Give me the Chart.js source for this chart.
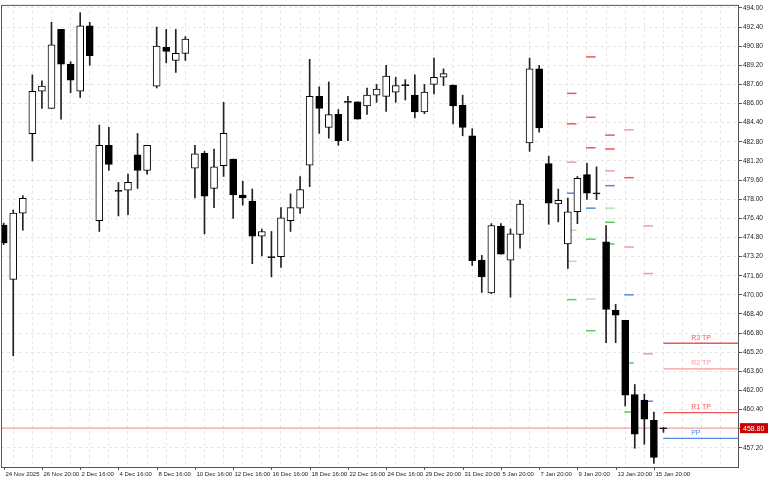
<!DOCTYPE html>
<html><head><meta charset="utf-8">
<script src="https://cdn.jsdelivr.net/npm/chart.js@4"></script>
<style>html,body{margin:0;padding:0;background:#fff}#w{width:768px;height:480px}</style>
</head><body><div id="w"><canvas id="c"></canvas></div>
<script>
// OHLC candles
const opens  = [475.84,471.28,476.84,483.47,487.03,485.6,492.2,489.3,487.03,492.5,476.2,482.5,478.7,478.75,481.7,480.4,487.45,490.7,489.6,490.2,480.6,481.83,478.9,480.8,481.35,478.35,477.85,474.9,473.2,473.2,476.2,477.25,480.85,486.6,484.0,485.1,486.1,486.15,485.8,486.7,486.6,486.95,487.5,486.7,485.3,487.6,488.2,487.55,485.85,483.3,472.9,470.15,475.75,472.9,475.05,482.7,488.9,480.98,477.6,474.25,476.95,480.05,478.5,474.43,468.7,467.86,461.65,461.2,459.5,458.85];
const highs  = [476.0,477.1,478.3,488.4,487.9,492.8,492.2,489.5,493.6,492.8,484.2,484.0,479.4,480.1,483.5,482.5,492.4,492.2,492.2,491.6,482.5,482.0,482.2,486.1,481.35,479.5,478.85,475.5,475.3,477.3,478.45,479.9,489.7,487.4,487.8,485.5,486.6,486.15,487.3,487.6,489.2,488.2,488.0,488.4,487.6,489.8,488.9,487.55,486.7,483.9,473.3,475.95,475.95,475.5,477.9,489.8,489.2,481.6,478.85,478.1,479.9,481.0,480.7,475.8,469.2,467.86,462.5,461.7,460.2,458.9];
const lows   = [474.2,464.9,475.4,481.2,485.6,485.6,484.7,486.9,486.5,489.2,475.3,480.4,476.6,476.7,478.9,480.1,487.3,489.4,488.6,489.6,478.1,475.1,477.3,479.9,476.4,477.5,472.6,473.25,471.5,472.3,475.3,476.8,479.05,483.5,483.1,482.5,482.9,484.7,485.1,486.1,485.35,486.1,486.3,484.8,485.15,486.8,487.5,484.3,483.3,472.45,470.2,470.1,473.4,469.8,473.9,482.0,483.6,475.9,476.1,472.2,475.95,477.97,477.97,466.0,466.0,460.7,457.17,457.5,455.9,458.5];
const closes = [474.35,476.84,478.08,487.03,487.45,490.9,489.3,487.95,492.5,490.0,482.5,480.9,478.65,479.4,480.4,482.5,490.8,490.35,490.2,491.4,481.8,478.25,480.7,483.5,478.35,478.1,474.9,475.3,473.1,476.45,477.3,478.8,486.6,485.6,485.07,482.9,486.1,484.7,486.7,487.2,488.3,487.5,487.5,485.3,486.95,488.2,488.5,485.8,484.0,472.85,471.5,475.8,473.4,475.1,477.6,488.9,483.97,477.67,477.9,476.95,479.75,478.5,478.45,468.77,468.3,461.6,458.35,459.6,456.4,458.8];
// x tick labels every 4 candles
const xLabels = ['24 Nov 2025','26 Nov 20:00','2 Dec 16:00','4 Dec 16:00','8 Dec 16:00','10 Dec 16:00','12 Dec 16:00','16 Dec 16:00','18 Dec 16:00','22 Dec 16:00','24 Dec 16:00','29 Dec 20:00','31 Dec 20:00','5 Jan 20:00','7 Jan 20:00','9 Jan 20:00','13 Jan 20:00','15 Jan 20:00'];
const yTicks = [494.00,492.40,490.80,489.20,487.60,486.00,484.40,482.80,481.20,479.60,478.00,476.40,474.80,473.20,471.60,470.00,468.40,466.80,465.20,463.60,462.00,460.40,458.80,457.20];
// previous-period pivot dashes
const dashStart = [61,59,61,59,63,65,61,63,59,63,65,63,59,61,63,63,59,61,63,67,65,59,67,65,59,61,61,67,65,67,65];
const dashValue = [489.9,486.85,484.85,484.3,483.36,483.8,482.3,482.2,481.1,480.37,479.8,479.13,478.5,477.25,477.25,476.07,475.4,474.66,474.25,475.76,474.0,472.8,471.78,470.0,469.6,469.65,467.0,465.07,464.3,461.1,460.2];
const dashKind  = ['r','r','r','r','r','p','r','r','p','p','r','b','b','b','gp','g','gp','g','g','p','p','gp','p','b','g','gp','g','p','g','b','g'];
// current levels
const levelNames  = ['R3 TP','R2 TP','R1 TP','PP'];
const levelValues = [465.95,463.8,460.15,457.99];
const levelKinds  = ['r','p','r','b'];
const currentPrice = 458.85;
const currentLabel = '458.80';

const FONT = '"Liberation Sans"';
const col = {r:'#f25555',p:'#f49a9a',b:'#5a88dc',g:'#5cc85c',gp:'#b4e2a8'};
const idx = opens.map((_,i)=>i);
const datasets = [];
datasets.push({type:'bar',order:2,data:idx.map(i=>({x:i,y:[lows[i],highs[i]]})),backgroundColor:'#222',barThickness:1,grouped:false});
datasets.push({type:'bar',order:1,data:idx.map(i=>({x:i,y:[opens[i],closes[i]]})),
  backgroundColor:idx.map(i=>closes[i]>opens[i]?'#fff':'#000'),borderColor:'#000',borderWidth:1,borderSkipped:false,
  barThickness:7,minBarLength:1,grouped:false});
dashStart.forEach((s,k)=>datasets.push({type:'line',order:3,data:[{x:s-0.1,y:dashValue[k]},{x:s+0.9,y:dashValue[k]}],
  borderColor:col[dashKind[k]],backgroundColor:col[dashKind[k]],borderWidth:1.5,pointRadius:0}));
levelValues.forEach((v,k)=>datasets.push({type:'line',order:3,data:[{x:69,y:v},{x:80,y:v}],borderColor:col[levelKinds[k]],borderWidth:1.3,pointRadius:0}));
datasets.push({type:'line',order:4,data:[{x:-2,y:currentPrice},{x:80,y:currentPrice}],borderColor:'#f0a0a0',borderWidth:1.3,pointRadius:0});

const overlay = {id:'ov',afterDatasetsDraw(ch){
  const {ctx,chartArea:a,scales:{x,y}} = ch;
  ctx.save();
  ctx.strokeStyle='#555';ctx.lineWidth=1;ctx.strokeRect(a.left+0.5,a.top+0.5,a.right-a.left-1,a.bottom-a.top);
  ctx.font='7px '+FONT;ctx.textBaseline='bottom';ctx.textAlign='left';
  levelNames.forEach((n,k)=>{ctx.fillStyle=col[levelKinds[k]];ctx.fillText(n,x.getPixelForValue(71.9),y.getPixelForValue(levelValues[k])-2);});
  const py=y.getPixelForValue(currentPrice);
  ctx.fillStyle='#cc0000';ctx.fillRect(a.right+1,py-5,28,10);
  ctx.fillStyle='#fff';ctx.textBaseline='middle';ctx.fillText(currentLabel,a.right+4,py+0.5);
  ctx.font='6px '+FONT;
  ctx.fillStyle='#222';ctx.textBaseline='top';ctx.strokeStyle='#555';
  xLabels.forEach((t,k)=>{const px=Math.round(x.getPixelForValue(k*4))+0.5;
    ctx.beginPath();ctx.moveTo(px,a.bottom);ctx.lineTo(px,a.bottom+3);ctx.stroke();
    ctx.fillText(t,px+1,a.bottom+4);});
  ctx.restore();
}};

new Chart(document.getElementById('c'),{
  data:{datasets},
  options:{responsive:true,maintainAspectRatio:false,animation:false,
    layout:{padding:{top:1,left:1,right:0,bottom:0}},
    plugins:{legend:{display:false},tooltip:{enabled:false}},
    scales:{
      x:{type:'linear',offset:false,min:-0.28,max:76.9,afterFit:s=>{s.height=13;},
        afterBuildTicks:s=>{const t=[];for(let i=0;i<=76;i+=2)t.push({value:i});s.ticks=t;},
        grid:{color:'#e6e6e6',drawTicks:false,tickLength:0},border:{display:false,dash:[3,3]},
        ticks:{display:false}},
      y:{type:'linear',position:'right',min:455.6,max:494.25,afterFit:s=>{s.width=29;},
        afterBuildTicks:s=>{s.ticks=yTicks.map(v=>({value:v}));},
        grid:{color:'#e6e6e6',tickLength:3,tickColor:'#555'},border:{display:false,dash:[3,3]},
        ticks:{padding:1,color:'#222',font:{size:6.5,family:'Liberation Sans'},callback:v=>v.toFixed(2)}}
    }},
  plugins:[overlay]
});
</script></body></html>
